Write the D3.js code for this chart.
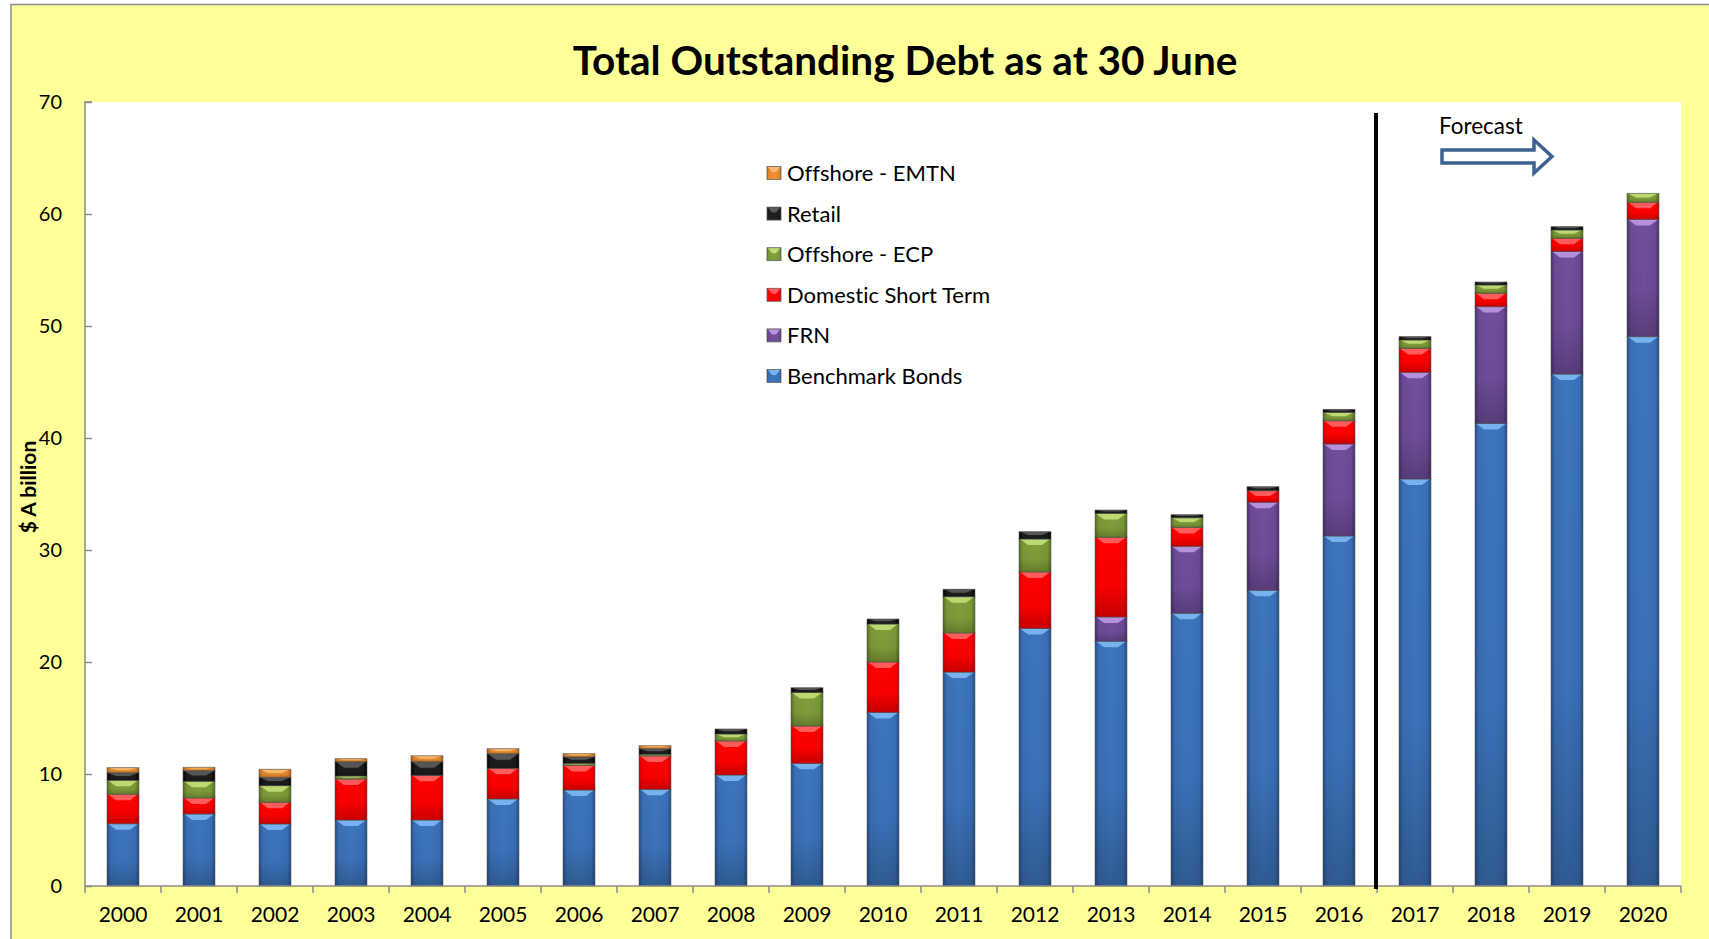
<!DOCTYPE html>
<html><head><meta charset="utf-8">
<script src="https://cdn.jsdelivr.net/npm/d3@7"></script>
<style>
body{margin:0;background:#fff;}
svg{display:block;font-family:Lato,'Open Sans',sans-serif;font-variant-ligatures:none;}
</style>
</head><body>
<svg id="chart" width="1709" height="939"></svg>
<script>
// ---------- DATA ----------
const years = ["2000","2001","2002","2003","2004","2005","2006","2007","2008","2009","2010",
               "2011","2012","2013","2014","2015","2016","2017","2018","2019","2020"];
const benchmarkBonds   = [5.56,6.43,5.54,5.89,5.89,7.77,8.57,8.63,9.91,10.95,15.5,19.1,23.0,21.85,24.35,26.4,31.25,36.34,41.3,45.71,49.05];
const frn              = [0,0,0,0,0,0,0,0,0,0,0,0,0,2.17,5.98,7.86,8.21,9.52,10.43,10.95,10.47];
const domesticShort    = [2.63,1.43,1.93,3.66,3.99,2.74,2.2,2.98,3.04,3.33,4.5,3.49,5.04,7.11,1.69,1.04,2.08,2.14,1.19,1.17,1.52];
const offshoreECP      = [1.25,1.49,1.49,0.27,0,0,0.18,0.15,0.62,3.0,3.39,3.24,2.94,2.14,0.86,0,0.75,0.75,0.74,0.74,0.8];
const retail           = [0.68,0.95,0.74,1.28,1.22,1.3,0.57,0.5,0.45,0.42,0.45,0.66,0.65,0.3,0.27,0.35,0.26,0.3,0.27,0.3,0];
const offshoreEMTN     = [0.45,0.3,0.72,0.27,0.53,0.45,0.3,0.27,0,0,0,0,0,0,0,0,0,0,0,0,0];
const seriesNames = ["Benchmark Bonds","FRN","Domestic Short Term","Offshore - ECP","Retail","Offshore - EMTN"];
const seriesValues = [benchmarkBonds, frn, domesticShort, offshoreECP, retail, offshoreEMTN];
const yTicks = [0,10,20,30,40,50,60,70];
const forecastStart = "2017";
const titleText = "Total Outstanding Debt as at 30 June";
const yTitle = "$ A billion";
const forecastLabel = "Forecast";

// ---------- STYLES ----------
const palette = {
  "Benchmark Bonds":     {base:"#3a6fb4", edge:"#264f86", hi:"#7ab4f0"},
  "FRN":                 {base:"#6b4b95", edge:"#48306b", hi:"#b994e0"},
  "Domestic Short Term": {base:"#ff0000", edge:"#d40000", hi:"#ff6060"},
  "Offshore - ECP":      {base:"#7b9838", edge:"#587222", hi:"#c0dc74"},
  "Retail":              {base:"#1c1c1c", edge:"#000000", hi:"#5a5a5a"},
  "Offshore - EMTN":     {base:"#e4892e", edge:"#b8661a", hi:"#f8bb70"}
};

const svg = d3.select("#chart");
const W = 1709, H = 939;
const M = {left:85, right:1681, top:102, bottom:886};

// background
svg.append("rect").attr("x",0).attr("y",0).attr("width",W).attr("height",H).attr("fill","#fff");
svg.append("rect").attr("x",11).attr("y",4.5).attr("width",W).attr("height",H)
   .attr("fill","#ffff99").attr("stroke","#8c8c8c").attr("stroke-width",1.5);
svg.append("rect").attr("x",M.left).attr("y",M.top).attr("width",M.right-M.left).attr("height",M.bottom-M.top)
   .attr("fill","#fff");

// defs: gradients
const defs = svg.append("defs");
seriesNames.forEach((n,i)=>{
  const p = palette[n];
  const g = defs.append("linearGradient").attr("id","g"+i).attr("x1","0").attr("x2","1").attr("y1","0").attr("y2","0");
  [[0,p.edge],[0.12,p.base],[0.5,d3.color(p.base).brighter(0.15)],[0.88,p.base],[1,p.edge]].forEach(s=>{
    g.append("stop").attr("offset",s[0]).attr("stop-color",s[1]);
  });
  const gv = defs.append("linearGradient").attr("id","v"+i).attr("x1","0").attr("x2","0").attr("y1","0").attr("y2","1");
  gv.append("stop").attr("offset",0).attr("stop-color","#000").attr("stop-opacity",0);
  gv.append("stop").attr("offset",0.6).attr("stop-color","#000").attr("stop-opacity",0.03);
  gv.append("stop").attr("offset",1).attr("stop-color","#000").attr("stop-opacity",0.22);
});

// scales
const x = d3.scaleBand().domain(years).range([M.left,M.right]).paddingInner(0.58).paddingOuter(0.29);
const y = d3.scaleLinear().domain([0,70]).range([M.bottom,M.top]);

// data table
const rows = years.map((yr,i)=>{
  const r = {year:yr};
  seriesNames.forEach((n,k)=>r[n]=seriesValues[k][i]);
  return r;
});
const stack = d3.stack().keys(seriesNames)(rows);

// bars
const gBars = svg.append("g");
stack.forEach((layer,k)=>{
  const n = seriesNames[k], p = palette[n];
  const g = gBars.append("g");
  layer.forEach(d=>{
    const v = d[1]-d[0];
    if (v <= 0) return;
    const x0 = x(d.data.year), bw = x.bandwidth();
    const yt = y(d[1]), yb = y(d[0]), h = yb-yt;
    g.append("rect").attr("x",x0).attr("y",yt).attr("width",bw).attr("height",h).attr("fill",`url(#g${k})`);
    g.append("rect").attr("x",x0).attr("y",yt).attr("width",bw).attr("height",h).attr("fill",`url(#v${k})`);
    const hh = Math.min(6, h*0.45);
    if (hh > 0.8) {
      const ins = bw*0.28;
      g.append("path")
       .attr("d",`M${x0+1},${yt} L${x0+bw-1},${yt} L${x0+bw-ins},${yt+hh} L${x0+ins},${yt+hh} Z`)
       .attr("fill",p.hi).attr("opacity",0.95);
    }
    g.append("rect").attr("x",x0).attr("y",yt).attr("width",bw).attr("height",h)
     .attr("fill","none").attr("stroke","#4a4a4a").attr("stroke-opacity",0.55).attr("stroke-width",1);
  });
});

// axes
const axisColor = "#8c8c8c";
const yAxis = svg.append("g").attr("transform",`translate(${M.left},0)`)
  .call(d3.axisRight(y).tickValues(yTicks).tickSize(7).tickFormat(""));
yAxis.selectAll("path,line").attr("stroke",axisColor).attr("stroke-width",1.5);
yAxis.select(".domain").attr("d",`M7,${M.top}H0V${M.bottom}`).attr("fill","none");
svg.append("g").selectAll("text").data(yTicks).join("text")
  .attr("x",62).attr("y",d=>y(d)).attr("dy","0.35em").attr("text-anchor","end")
  .attr("font-size",20).attr("fill","#000").text(d=>d);

const xAxisG = svg.append("g").attr("transform",`translate(0,${M.bottom})`);
xAxisG.append("line").attr("x1",M.left).attr("x2",M.right).attr("stroke",axisColor).attr("stroke-width",1.5);
const bounds = years.map(yr=>x(yr) - (x.step()-x.bandwidth())/2);
bounds.push(M.right);
xAxisG.selectAll("line.tk").data(bounds).join("line").attr("class","tk")
  .attr("x1",d=>d).attr("x2",d=>d).attr("y1",0).attr("y2",7).attr("stroke",axisColor).attr("stroke-width",1.5);
xAxisG.selectAll("text").data(years).join("text")
  .attr("x",d=>x(d)+x.bandwidth()/2).attr("y",36).attr("text-anchor","middle")
  .attr("font-size",21).attr("fill","#000").text(d=>d);

// forecast divider
const divX = x(forecastStart) - (x.step()-x.bandwidth())/2;
svg.append("line").attr("x1",divX-1).attr("x2",divX-1).attr("y1",113).attr("y2",M.bottom+3)
  .attr("stroke","#000").attr("stroke-width",4);

// forecast label + arrow
svg.append("text").attr("x",1439).attr("y",134).attr("font-size",22.5).attr("fill","#000").text(forecastLabel);
svg.append("path")
  .attr("d","M1442,150 L1534,150 L1534,140 L1552,156.5 L1534,173 L1534,163 L1442,163 Z")
  .attr("fill","#fff").attr("stroke","#3d6190").attr("stroke-width",3.5).attr("stroke-linejoin","miter");

// title
svg.append("text").attr("x",905).attr("y",75).attr("text-anchor","middle")
  .attr("font-size",40.5).attr("font-weight","bold").attr("fill","#000").text(titleText);

// y title
svg.append("text").attr("transform","translate(36,487) rotate(-90)").attr("text-anchor","middle")
  .attr("font-size",21).attr("font-weight","bold").attr("fill","#000").text(yTitle);

// legend
const legendOrder = ["Offshore - EMTN","Retail","Offshore - ECP","Domestic Short Term","FRN","Benchmark Bonds"];
const lg = svg.append("g");
legendOrder.forEach((n,i)=>{
  const k = seriesNames.indexOf(n), p = palette[n];
  const cy = 173 + i*40.6;
  lg.append("rect").attr("x",767).attr("y",cy-6.5).attr("width",14).attr("height",13).attr("fill",`url(#g${k})`)
    .attr("stroke","#666").attr("stroke-width",0.8);
  lg.append("path").attr("d",`M768,${cy-6} L780,${cy-6} L776,${cy-1} L772,${cy-1} Z`).attr("fill",p.hi);
  lg.append("text").attr("x",787).attr("y",cy).attr("dy","0.36em").attr("font-size",22).attr("fill","#000").text(n);
});
</script>
</body></html>
